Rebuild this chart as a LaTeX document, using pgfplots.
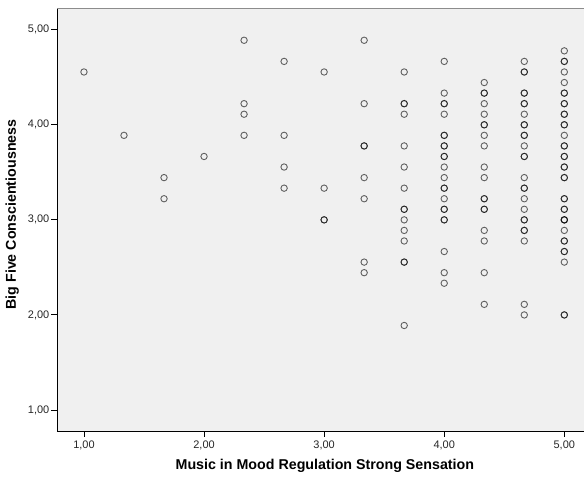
\documentclass[border=0pt]{standalone}
\usepackage{fontspec}
\setmainfont{Liberation Sans}
\usepackage{pgfplots}
\pgfplotsset{compat=1.18}
\definecolor{plotbg}{HTML}{F0F0F0}
\definecolor{topline}{HTML}{8C8C8C}

\begin{document}
\begin{tikzpicture}
\begin{axis}[
    scale only axis,
    width=526.7bp, height=422bp,
    xmin=0.778, xmax=5.164,
    ymin=0.779, ymax=5.218,
    axis x line*=bottom, axis y line*=left,
    axis line style={black, line width=0.9bp},
    axis background/.style={fill=plotbg},
    xtick={1,2,3,4,5}, ytick={1,2,3,4,5},
    tick align=outside, major tick length=6bp,
    tick style={black, line width=0.9bp},
    /pgf/number format/.cd, fixed, fixed zerofill, precision=2, use comma, assume math mode=true,
    /pgfplots/.cd,
    ticklabel style={font=\fontsize{11}{13}\selectfont, text=black!85},
    yticklabel style={xshift=1.5bp},
    xlabel={Music in Mood Regulation Strong Sensation},
    ylabel={Big Five Conscientiousness},
    label style={font=\bfseries\fontsize{14.3}{16}\selectfont},
    xlabel style={at={(axis description cs:0.508,0)}, anchor=center, yshift=-35bp},
    ylabel style={at={(axis description cs:0,0.513)}, anchor=center, yshift=45bp},
    clip=false,
]
\coordinate (o) at (rel axis cs:0,0);
\draw[topline, line width=1bp] (rel axis cs:0,1) -- (rel axis cs:1,1);
\addplot[only marks, mark=o, mark size=3.2bp,
    mark options={draw=black, line width=0.9bp, opacity=0.6}]
table {
x y
1 4.5556
1.3333 3.8889
1.6667 3.4444
1.6667 3.2222
2 3.6667
2.3333 4.8889
2.3333 4.2222
2.3333 4.1111
2.3333 3.8889
2.6667 4.6667
2.6667 3.8889
2.6667 3.5556
2.6667 3.3333
3 4.5556
3 3.3333
3 3.0
3 3.0
3.3333 4.8889
3.3333 4.2222
3.3333 3.7778
3.3333 3.7778
3.3333 3.4444
3.3333 3.2222
3.3333 2.5556
3.3333 2.4444
3.6667 4.5556
3.6667 4.2222
3.6667 4.2222
3.6667 4.1111
3.6667 3.7778
3.6667 3.5556
3.6667 3.3333
3.6667 3.1111
3.6667 3.1111
3.6667 3.0
3.6667 2.8889
3.6667 2.7778
3.6667 2.5556
3.6667 2.5556
3.6667 1.8889
4 4.6667
4 4.3333
4 4.2222
4 4.2222
4 4.1111
4 3.8889
4 3.8889
4 3.7778
4 3.7778
4 3.6667
4 3.6667
4 3.5556
4 3.4444
4 3.3333
4 3.3333
4 3.2222
4 3.1111
4 3.1111
4 3.0
4 3.0
4 2.6667
4 2.4444
4 2.3333
4.3333 4.4444
4.3333 4.3333
4.3333 4.3333
4.3333 4.2222
4.3333 4.1111
4.3333 4.0
4.3333 4.0
4.3333 3.8889
4.3333 3.7778
4.3333 3.5556
4.3333 3.4444
4.3333 3.2222
4.3333 3.2222
4.3333 3.1111
4.3333 3.1111
4.3333 2.8889
4.3333 2.7778
4.3333 2.4444
4.3333 2.1111
4.6667 4.6667
4.6667 4.5556
4.6667 4.5556
4.6667 4.3333
4.6667 4.3333
4.6667 4.2222
4.6667 4.2222
4.6667 4.1111
4.6667 4.0
4.6667 4.0
4.6667 3.8889
4.6667 3.8889
4.6667 3.7778
4.6667 3.6667
4.6667 3.6667
4.6667 3.4444
4.6667 3.3333
4.6667 3.3333
4.6667 3.2222
4.6667 3.1111
4.6667 3.0
4.6667 3.0
4.6667 2.8889
4.6667 2.8889
4.6667 2.7778
4.6667 2.1111
4.6667 2.0
5 4.7778
5 4.6667
5 4.6667
5 4.5556
5 4.4444
5 4.3333
5 4.3333
5 4.2222
5 4.2222
5 4.1111
5 4.1111
5 4.0
5 4.0
5 3.8889
5 3.7778
5 3.7778
5 3.6667
5 3.6667
5 3.5556
5 3.5556
5 3.4444
5 3.4444
5 3.2222
5 3.2222
5 3.1111
5 3.1111
5 3.0
5 3.0
5 3.0
5 2.8889
5 2.7778
5 2.7778
5 2.6667
5 2.6667
5 2.5556
5 2.0
5 2.0
};
\end{axis}
\pgfresetboundingbox
\path (o) ++(-57.3bp,-48bp) rectangle ++(584bp,479bp);
\end{tikzpicture}
\end{document}
